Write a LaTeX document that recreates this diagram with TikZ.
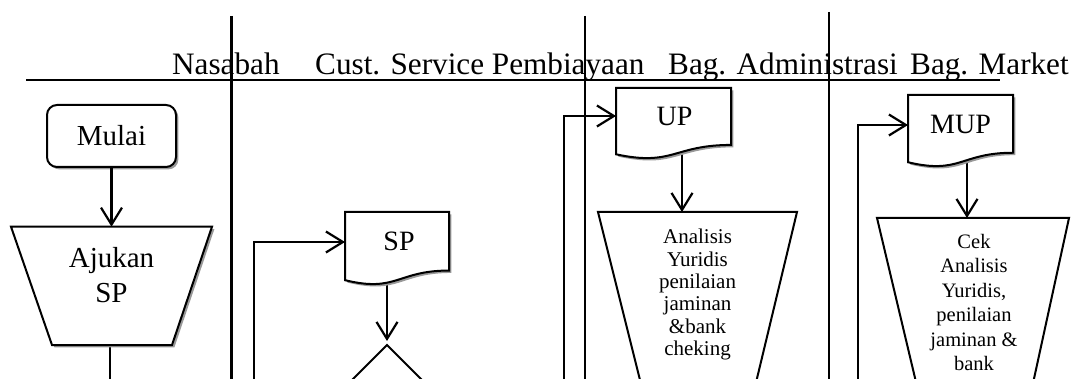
\documentclass[tikz,border=0pt]{standalone}
\usepackage{fontspec}
\setmainfont{Liberation Serif}
\usetikzlibrary{arrows.meta,calc,shapes.geometric}

% outline of a flowchart "document" symbol built on a node's bounding box
\newcommand\docpath[1]{(#1.north west) -- (#1.north east)
  -- ($(#1.north east)!0.802!(#1.south east)$)
  .. controls ($(#1.north)!0.802!(#1.south)$) and ($(#1.north)!1.107!(#1.south)$)
  .. ($(#1.north west)!0.934!(#1.south west)$) -- cycle}

\begin{document}
\begin{tikzpicture}[x=1pt,y=-1pt,
  lane/.style={line width=2.2pt},
  conn/.style={line width=2.2pt},
  arr/.style={conn,-{Straight Barb[length=17pt,width=21pt]}},
  outline/.style={draw, line width=2pt, fill=white},
  shadowed/.style={preaction={fill=black!40, transform canvas={shift={(2.4pt,-2.4pt)}}}},
  head/.style={font=\fontsize{31.2}{36}\selectfont, anchor=base west, inner sep=0},
  big/.style={font=\fontsize{29}{35}\selectfont},
  doctext/.style={font=\fontsize{28}{32}\selectfont, inner sep=0},
  docbox/.style={anchor=north west, inner sep=0, outer sep=0, draw=none},
  listtext/.style={inner sep=0, align=center, anchor=north}
]
\useasboundingbox (0,0) rectangle (1079,379);
\clip (0,0) rectangle (1079,379);

% swimlane header and separators
\draw[lane] (26,80) -- (1000,80);
\draw[lane] (231.5,16) -- (231.5,390);
\draw[lane] (585,16) -- (585,390);
\draw[lane] (829,12) -- (829,390);

\node[head] (h-nas) at (172,75) {Nasabah};
\node[head] (h-cs)  at (315,75) {Cust. Service Pembiayaan};
\node[head] (h-adm) at (668,75) {Bag. Administrasi};
\node[head] (h-mkt) at (910,75) {Bag. Market};

% document symbols (frames only; outlines drawn later)
\node[docbox, minimum width=104, minimum height=73] (sp)  at (345,212) {};
\node[docbox, minimum width=115, minimum height=71] (up)  at (616,88)  {};
\node[docbox, minimum width=105, minimum height=72] (mup) at (908,95)  {};

% anchor points on the manual-operation shapes and lane feet
\coordinate (ajukan-top) at (111.5,226.7);
\coordinate (ajukan-bot) at (110,345);
\coordinate (ana-top) at (682,212);
\coordinate (cek-top) at (967,218);
\coordinate (c1-foot) at (110,390);
\coordinate (c2-foot) at (254,390);
\coordinate (c3-foot) at (564,390);
\coordinate (c4-foot) at (858,390);

% start terminal
\node[big, outline, shadowed, rounded corners=10pt, minimum width=129,
      minimum height=62] (mulai) at (111.5,136) {Mulai};

% decision
\node[diamond, outline, minimum width=150, minimum height=150, inner sep=0,
      outer sep=0, anchor=north] (dec) at (387,345) {};

% connectors
\draw[arr] (mulai.south) -- (ajukan-top);
\draw[conn] (ajukan-bot) -- (c1-foot);
\draw[arr] (c2-foot) |- ($(sp.north west)+(0,30)$);
\draw[arr] (c3-foot) |- ($(up.north west)+(0,28)$);
\draw[arr] (c4-foot) |- ($(mup.north west)+(0,30)$);
\draw[arr, shorten >=4pt] (sp.center -| dec.north) -- (dec.north);
\draw[arr] (up.center -| ana-top) -- (ana-top);
\draw[arr] (mup.center -| cek-top) -- (cek-top);

% manual operations
\path[outline, shadowed] (11,226.7) -- (212,226.7) -- (172,345) -- (52,345) -- cycle;
\path[outline] (598,212) -- (797,212) -- (747,420) -- (650,420) -- cycle;
\path[outline] (877,218) -- (1069,218) -- (1025,420) -- (925,420) -- cycle;

% documents
\path[outline, shadowed] \docpath{sp};
\path[outline, shadowed] \docpath{up};
\path[outline, shadowed] \docpath{mup};

% texts
\node[big, listtext] (ajukan) at (111.5,247.2) {\baselineskip=35pt Ajukan\\SP};
\node[doctext] (sp-t)  at ($(sp.north)+(2,29)$)  {SP};
\node[doctext] (up-t)  at ($(up.north)+(1,28)$)  {UP};
\node[doctext] (mup-t) at ($(mup.north)+(0,29)$) {MUP};
\node[listtext, font=\fontsize{21}{22.3}\selectfont] (ana) at (697.5,229.2)
  {Analisis\\Yuridis\\penilaian\\jaminan\\\&bank\\cheking};
\node[listtext, font=\fontsize{20.5}{24.4}\selectfont] (cek) at (974,234)
  {Cek\\Analisis\\Yuridis,\\penilaian\\jaminan \&\\bank};
\end{tikzpicture}
\end{document}
